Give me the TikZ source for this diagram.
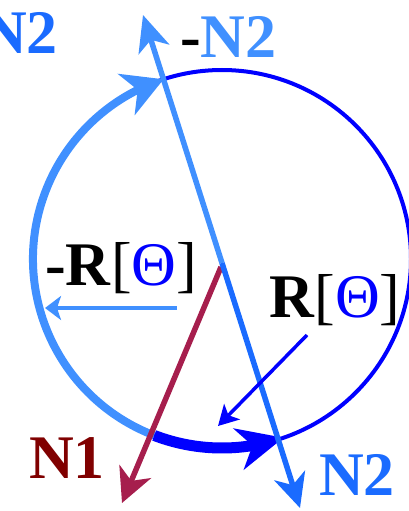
\documentclass[tikz,border=0pt]{standalone}
\usepackage{fontspec}
\setmainfont{Liberation Serif}
\usetikzlibrary{arrows.meta,bending}
\definecolor{lblue}{RGB}{64,144,255}
\definecolor{mblue}{RGB}{26,107,255}
\definecolor{dblue}{RGB}{0,0,255}
\definecolor{maroonA}{RGB}{166,30,77}
\definecolor{darkred}{RGB}{128,0,0}
\begin{document}
\begin{tikzpicture}[x=1pt,y=-1pt,
  lab/.style={inner sep=0pt, anchor=base west, font=\fontsize{62}{62}\selectfont\bfseries}]
\useasboundingbox (0,0) rectangle (409,511);
\coordinate (C) at (222,259);
\coordinate (M) at (222,263);
\coordinate (T) at (143,15);
\coordinate (B) at (300,508);
\coordinate (Ms) at (221,267);
\coordinate (Me) at (122,503);
\coordinate (La) at (177,308);
\coordinate (Lb) at (45,308);
\coordinate (Ra) at (307,335);
\coordinate (Rb) at (218,426);
% circle
\draw[dblue, line width=4] (C) circle[radius=189];
% light blue arc
\draw[lblue, line width=8, -{Stealth[length=40,width=44,inset=12]}]
  ([shift={(-249:189)}]C) arc[start angle=-249, end angle=-108, radius=189];
% thick dark arc
\draw[dblue, line width=11, -{Stealth[length=46,width=42,inset=14]}]
  ([shift={(-249:189)}]C) arc[start angle=-249, end angle=-289, radius=189];
% N1 vector
\draw[maroonA, line width=5.5, -{Stealth[length=34,width=34,inset=10]}] (Ms) -- (Me);
% N2 line
\draw[lblue, line width=5.5, -{Stealth[length=36,width=32,inset=10]}] (M) -- (T);
\draw[mblue, line width=5.5, -{Stealth[length=34,width=32,inset=10]}] (M) -- (B);
% R arrows
\draw[lblue, line width=4, -{Stealth[length=16,width=24,inset=4]}] (La) -- (Lb);
\draw[dblue, line width=3.5, -{Stealth[length=20,width=22,inset=5]}] (Ra) -- (Rb);
% labels
\node[lab] (lmR) at (45,285) {-R\textmd{[\textcolor{dblue}{Θ}]}};
\node[lab] (lR) at (269,317) {R\textmd{[\textcolor{dblue}{Θ}]}};
\node[lab] (lmN) at (180,58) {-\textcolor{lblue}{N2}};
\node[lab, text=mblue] (lN2a) at (-18,54) {N2};
\node[lab, text=darkred] (lN1) at (29,478) {N1};
\node[lab, text=mblue] (lN2b) at (319,495) {N2};
\end{tikzpicture}
\end{document}
